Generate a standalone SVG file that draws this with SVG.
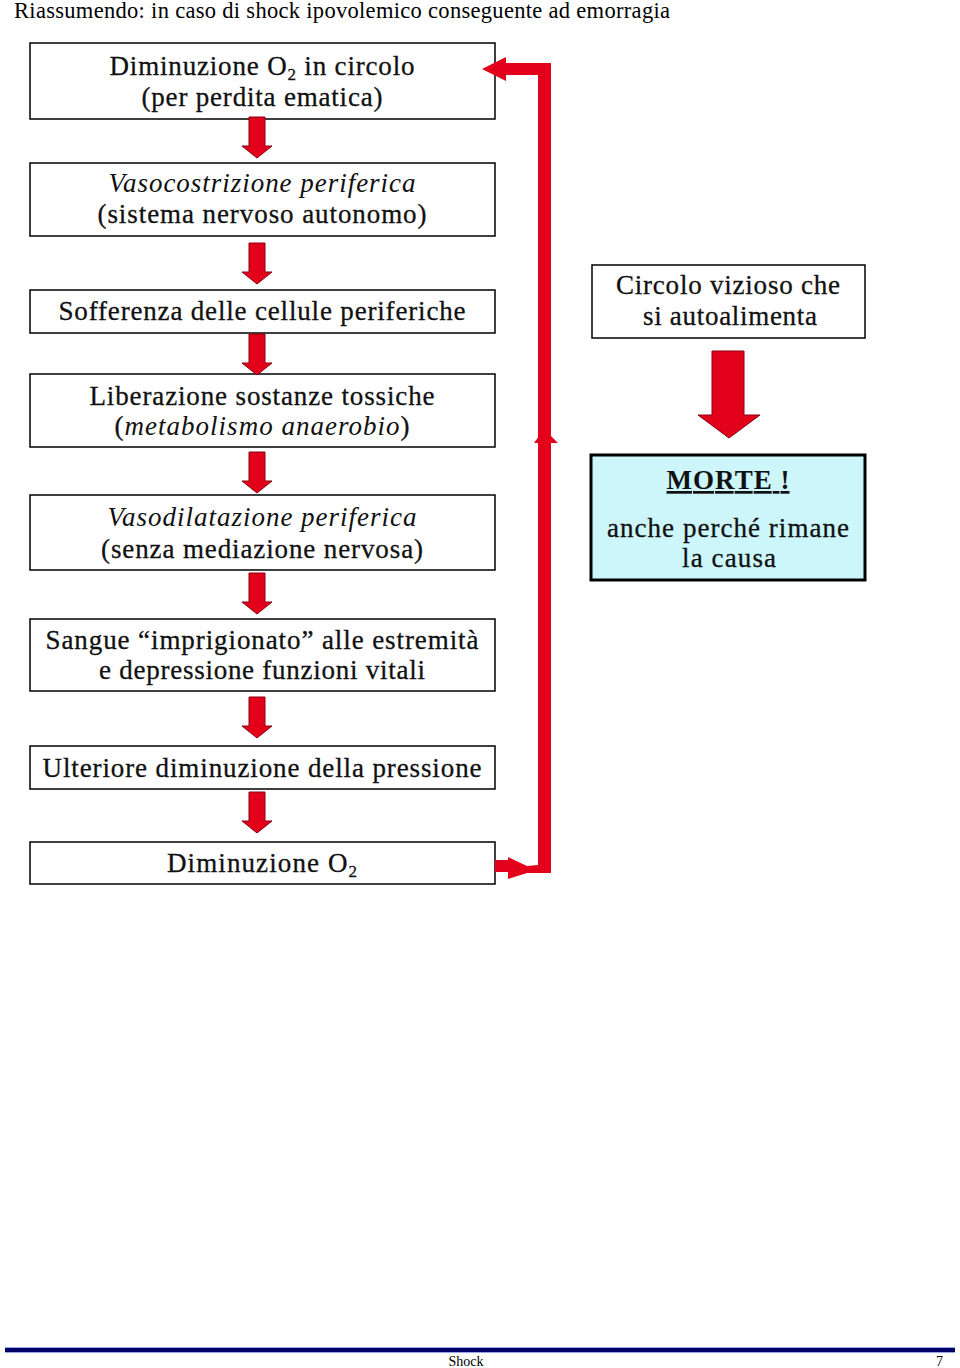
<svg xmlns="http://www.w3.org/2000/svg" width="960" height="1368" viewBox="0 0 960 1368">
<defs>
<style>
.box{fill:#ffffff;stroke:#000000;stroke-width:1.5}
.death{fill:#ccf6fa;stroke:#000000;stroke-width:3}
.t{font-family:"Liberation Serif",serif;font-size:27px;fill:#111111;text-anchor:middle;stroke:#111111;stroke-width:0.3}
.i{font-family:"Liberation Serif",serif;font-style:italic;stroke-width:0}
.arr{fill:#e3001b;stroke:#8a0010;stroke-width:1}
.loop{fill:#e3001b}
.title{font-family:"Liberation Serif",serif;font-size:22.5px;fill:#000000}
.foot{font-family:"Liberation Serif",serif;font-size:14px;fill:#000000}
</style>
<path id="small" d="M-8,0 H8 V29 H15 L0,41 L-15,29 H-8 Z"/>
</defs>
<rect width="960" height="1368" fill="#ffffff"/>
<text class="title" x="14" y="18" textLength="656">Riassumendo: in caso di shock ipovolemico conseguente ad emorragia</text>

<g id="n1">
<rect class="box" x="30" y="43" width="465" height="76"/>
<text class="t" x="262" y="75" textLength="305">Diminuzione O<tspan font-size="17" dy="5">2</tspan><tspan dy="-5"> in circolo</tspan></text>
<text class="t" x="262" y="106" textLength="241">(per perdita ematica)</text>
</g>
<g id="n2">
<rect class="box" x="30" y="163" width="465" height="73"/>
<text class="t i" x="262" y="192" textLength="307">Vasocostrizione periferica</text>
<text class="t" x="262" y="223" textLength="329">(sistema nervoso autonomo)</text>
</g>
<g id="n3">
<rect class="box" x="30" y="290" width="465" height="43"/>
<text class="t" x="262" y="320" textLength="407">Sofferenza delle cellule periferiche</text>
</g>
<g id="n4">
<rect class="box" x="30" y="374" width="465" height="73"/>
<text class="t" x="262" y="405" textLength="345">Liberazione sostanze tossiche</text>
<text class="t" x="262" y="435" textLength="295">(<tspan class="i" style="stroke-width:0">metabolismo anaerobio</tspan>)</text>
</g>
<g id="n5">
<rect class="box" x="30" y="495" width="465" height="75"/>
<text class="t i" x="262" y="526" textLength="309">Vasodilatazione periferica</text>
<text class="t" x="262" y="558" textLength="322">(senza mediazione nervosa)</text>
</g>
<g id="n6">
<rect class="box" x="30" y="619" width="465" height="72"/>
<text class="t" x="262" y="649" textLength="433">Sangue “imprigionato” alle estremità</text>
<text class="t" x="262" y="679" textLength="326">e depressione funzioni vitali</text>
</g>
<g id="n7">
<rect class="box" x="30" y="746" width="465" height="43"/>
<text class="t" x="262" y="777" textLength="439">Ulteriore diminuzione della pressione</text>
</g>
<g id="n8">
<rect class="box" x="30" y="842" width="465" height="42"/>
<text class="t" x="262" y="872" textLength="190">Diminuzione O<tspan font-size="17" dy="5">2</tspan></text>
</g>
<g id="n9">
<rect class="box" x="592" y="265" width="273" height="73"/>
<text class="t" x="728" y="294" textLength="224">Circolo vizioso che</text>
<text class="t" x="730" y="325" textLength="174">si autoalimenta</text>
</g>
<g id="n10">
<rect class="death" x="591" y="455" width="274" height="125"/>
<text class="t" x="728" y="489" textLength="123" font-weight="bold" text-decoration="underline" style="stroke-width:0">MORTE !</text>
<text class="t" x="728" y="537" textLength="242">anche perché rimane</text>
<text class="t" x="729" y="567" textLength="94">la causa</text>
</g>

<g id="connectors">
<use href="#small" class="arr" x="257" y="117"/>
<use href="#small" class="arr" x="257" y="243"/>
<use href="#small" class="arr" x="257" y="334"/>
<use href="#small" class="arr" x="257" y="452"/>
<use href="#small" class="arr" x="257" y="573"/>
<use href="#small" class="arr" x="257" y="697"/>
<use href="#small" class="arr" x="257" y="792"/>
<path class="arr" d="M712,351 H744 V415 H760 L729,438 L698,415 H712 Z"/>
<path class="loop" d="M495,860 H508 V857 L527,866 L538,865 V443 H534 L544,429 L558,443 H551 V873 H527 L508,879 V872 H495 Z"/>
<path class="loop" d="M551,443 V75 H538 V443 Z"/>
<path class="loop" d="M551,75 V63 H506 V57 L482,69 L506,81 V75 Z"/>
</g>

<rect x="5" y="1347" width="950" height="6" fill="#9aa6e8"/>
<rect x="5" y="1348" width="950" height="4" fill="#000066"/>
<text class="foot" x="466" y="1366" text-anchor="middle">Shock</text>
<text class="foot" x="943" y="1366" text-anchor="end">7</text>
</svg>
